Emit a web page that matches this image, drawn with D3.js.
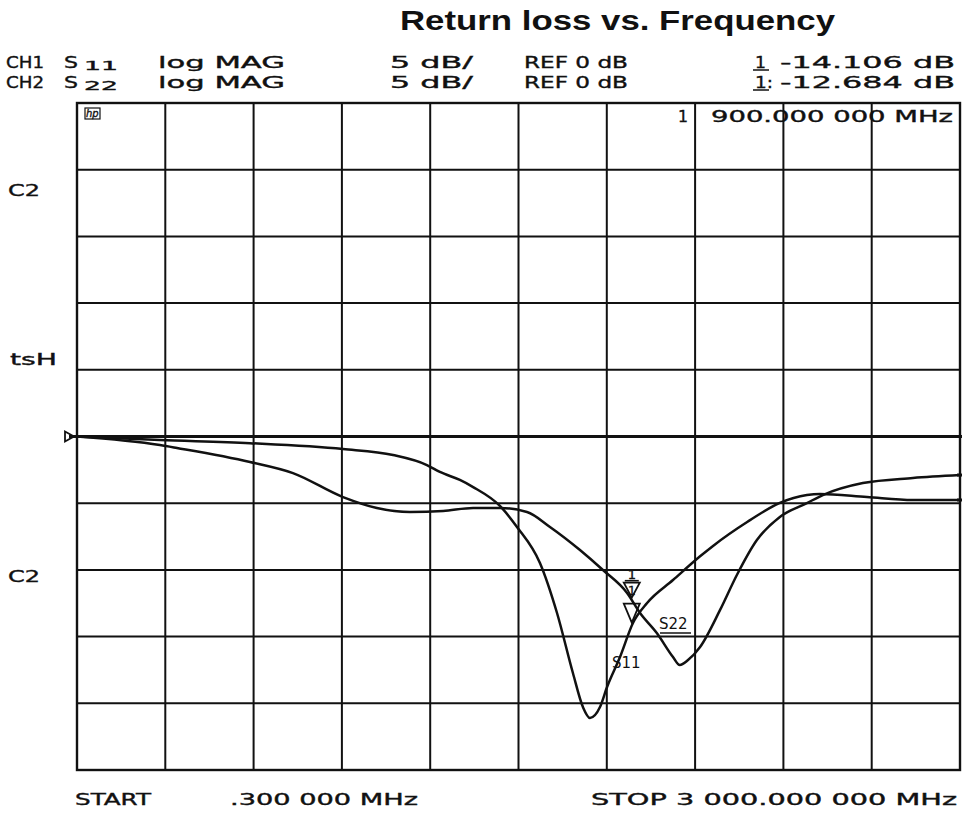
<!DOCTYPE html>
<html>
<head>
<meta charset="utf-8">
<script src="https://cdn.jsdelivr.net/npm/d3@7"></script>
<style>
  body { margin: 0; background: #fff; }
  .hp { font-family: "DejaVu Sans", sans-serif; font-size: 15px; fill: #111; stroke: #111; stroke-width: 0.35; }
  .title { font-family: "Liberation Sans", Arial, sans-serif; font-weight: bold; font-size: 28px; fill: #111; }
  .hand { font-family: "DejaVu Sans", sans-serif; font-size: 15px; fill: #111; }
</style>
</head>
<body>
<div id="chart"></div>
<script>
// sweep + scale settings (from the analyzer header)
var startMHz = 0.3, stopMHz = 3000,
    refDb = 0, dbPerDiv = 5, divs = 10,
    markerMHz = 1885,
    markerS11 = -14.106, markerS22 = -12.684;

// S11 trace
var s11Freq = [0.3, 282, 588, 904, 1074, 1189, 1233, 1301, 1346, 1437, 1495, 1573, 1631, 1685, 1719, 1743,
               1777, 1801, 1845, 1889, 1937, 2025, 2117, 2161, 2277, 2388, 2480, 2524, 2684, 2840, 3000];
var s11Db = [0, -0.26, -0.5, -0.94, -1.39, -2.14, -2.66, -3.26, -3.79, -5.2, -6.78, -9.48, -13.23, -17.73, -20.28, -21.1,
             -20.28, -18.78, -16.53, -13.98, -12.48, -10.76, -8.98, -8.2, -6.41, -4.98, -4.39, -4.31, -4.54, -4.76, -4.76];

// S22 trace
var s22Freq = [0.3, 282, 340, 588, 734, 904, 1019, 1131, 1244, 1346, 1437, 1529, 1607, 1709, 1787, 1869,
               1913, 1970, 2025, 2048, 2076, 2117, 2185, 2242, 2310, 2388, 2480, 2534, 2670, 2840, 3000];
var s22Db = [0, -0.64, -0.86, -1.91, -2.74, -4.54, -5.36, -5.66, -5.58, -5.36, -5.36, -5.66, -6.78, -8.51, -10.01, -11.73,
             -13.23, -14.73, -16.53, -17.13, -16.76, -15.78, -13.0, -10.38, -7.76, -6.03, -4.99, -4.39, -3.49, -3.11, -2.89];

var W = 962, H = 826,
    plot = { left: 77, right: 960, top: 103, bottom: 770 };

var svg = d3.select("#chart").append("svg")
    .attr("width", W)
    .attr("height", H);

var x = d3.scaleLinear().domain([startMHz, stopMHz]).range([plot.left, plot.right]);
var y = d3.scaleLinear()
    .domain([refDb - dbPerDiv * divs / 2, refDb + dbPerDiv * divs / 2])
    .range([plot.bottom, plot.top]);

// grid: 10 x 10 divisions
var xTicks = d3.range(divs + 1).map(function(i) { return startMHz + i * (stopMHz - startMHz) / divs; });
var yTicks = d3.range(divs + 1).map(function(i) { return y.domain()[0] + i * dbPerDiv; });

var grid = svg.append("g").attr("stroke", "#111").attr("stroke-width", 2);
grid.selectAll(".vgrid").data(xTicks).enter().append("line")
    .attr("x1", function(d) { return x(d); })
    .attr("x2", function(d) { return x(d); })
    .attr("y1", plot.top).attr("y2", plot.bottom);
grid.selectAll(".hgrid").data(yTicks).enter().append("line")
    .attr("x1", plot.left).attr("x2", plot.right)
    .attr("y1", function(d) { return y(d); })
    .attr("y2", function(d) { return y(d); });

svg.append("rect")
    .attr("x", plot.left).attr("y", plot.top)
    .attr("width", plot.right - plot.left).attr("height", plot.bottom - plot.top)
    .attr("fill", "none").attr("stroke", "#111").attr("stroke-width", 2.4);

// reference line, runs past the border
svg.append("line")
    .attr("x1", plot.left - 8).attr("x2", W)
    .attr("y1", y(refDb)).attr("y2", y(refDb))
    .attr("stroke", "#111").attr("stroke-width", 3);
svg.append("path")
    .attr("d", "M" + (plot.left - 12) + "," + (y(refDb) - 5) + "l9,5l-9,5z")
    .attr("fill", "none").attr("stroke", "#111").attr("stroke-width", 1.8);

// traces
var line = d3.line()
    .x(function(d) { return x(d[0]); })
    .y(function(d) { return y(d[1]); })
    .curve(d3.curveMonotoneX);

svg.append("path")
    .datum(d3.zip(s11Freq, s11Db))
    .attr("d", line)
    .attr("fill", "none").attr("stroke", "#111").attr("stroke-width", 2.5);
svg.append("path")
    .datum(d3.zip(s22Freq, s22Db))
    .attr("d", line)
    .attr("fill", "none").attr("stroke", "#111").attr("stroke-width", 2.5);

// trace end marks at the right edge
[s11Db[s11Db.length - 1], s22Db[s22Db.length - 1]].forEach(function(v) {
  svg.append("line")
      .attr("x1", plot.right - 3).attr("x2", W)
      .attr("y1", y(v)).attr("y2", y(v))
      .attr("stroke", "#111").attr("stroke-width", 3);
});

// marker 1
var mx = x(markerMHz);
function tri(yy, h) {
  return "M" + (mx - 8) + "," + (yy - h) + "L" + (mx + 8) + "," + (yy - h) + "L" + mx + "," + yy + "Z";
}
svg.append("path").attr("d", tri(y(markerS22) - 8, 15))
    .attr("fill", "#fff").attr("stroke", "#111").attr("stroke-width", 1.8);
svg.append("path").attr("d", tri(y(markerS11) - 2, 19))
    .attr("fill", "none").attr("stroke", "#111").attr("stroke-width", 1.8);
svg.append("text").attr("class", "hp").attr("x", mx).attr("y", y(markerS22) - 11)
    .attr("text-anchor", "middle").style("font-size", "12px").text("1");
svg.append("text").attr("class", "hp").attr("x", mx).attr("y", y(markerS22) - 27)
    .attr("text-anchor", "middle").style("font-size", "13px").text("1");
svg.append("line").attr("x1", mx - 7).attr("x2", mx + 7)
    .attr("y1", y(markerS22) - 25).attr("y2", y(markerS22) - 25)
    .attr("stroke", "#111").attr("stroke-width", 1.6);

// hand-written trace names
svg.append("text").attr("class", "hand").attr("x", 659).attr("y", 629).text("S22");
svg.append("line").attr("x1", 660).attr("x2", 691).attr("y1", 633).attr("y2", 633)
    .attr("stroke", "#111").attr("stroke-width", 1.5);
svg.append("text").attr("class", "hand").attr("x", 612).attr("y", 668).text("S11");

// title
svg.append("text").attr("class", "title")
    .attr("x", 400).attr("y", 30)
    .attr("textLength", 435).attr("lengthAdjust", "spacingAndGlyphs")
    .text("Return loss vs. Frequency");

// analyzer annotations
function hpText(str, x0, x1, yy, size) {
  var t = svg.append("text").attr("class", "hp")
      .attr("x", x0).attr("y", yy).text(str);
  if (size) t.style("font-size", size + "px");
  if (x1) t.attr("textLength", x1 - x0).attr("lengthAdjust", "spacingAndGlyphs");
  return t;
}

var rows = [
  { ch: "CH1", sub: "11", base: 68, mk: "1", val: "-14.106 dB" },
  { ch: "CH2", sub: "22", base: 88, mk: "1:", val: "-12.684 dB" }
];
rows.forEach(function(r) {
  hpText(r.ch, 6, 44, r.base);
  hpText("S", 64, 78, r.base);
  hpText(r.sub, 84, 118, r.base + 2, 12);
  hpText("log MAG", 158, 285, r.base);
  hpText("5 dB/", 390, 473, r.base);
  hpText("REF 0 dB", 524, 628, r.base);
  hpText(r.mk, 755, r.mk.length > 1 ? 773 : 766, r.base);
  hpText(r.val, 780, 955, r.base);
});
rows.forEach(function(r) {
  svg.append("line").attr("x1", 753).attr("x2", 769).attr("y1", r.base + 2).attr("y2", r.base + 2)
      .attr("stroke", "#111").attr("stroke-width", 1.5);
});

// marker readout inside the grid
hpText("1", 678, 688, 122);
hpText("900.000 000 MHz", 711, 953, 122);

// hp logo
svg.append("rect").attr("x", 85).attr("y", 108).attr("width", 15).attr("height", 11)
    .attr("fill", "none").attr("stroke", "#111").attr("stroke-width", 1.2);
svg.append("text").attr("class", "hp").attr("x", 86).attr("y", 117)
    .style("font-size", "10px").style("font-style", "italic").text("hp");

// left side labels
hpText("C2", 8, 40, 196);
hpText("tsH", 10, 57, 365);
hpText("C2", 8, 40, 582);

// sweep range
hpText("START", 75, 151, 805);
hpText(".300 000 MHz", 230, 418, 805);
hpText("STOP 3 000.000 000 MHz", 591, 957, 805);
</script>
</body>
</html>
